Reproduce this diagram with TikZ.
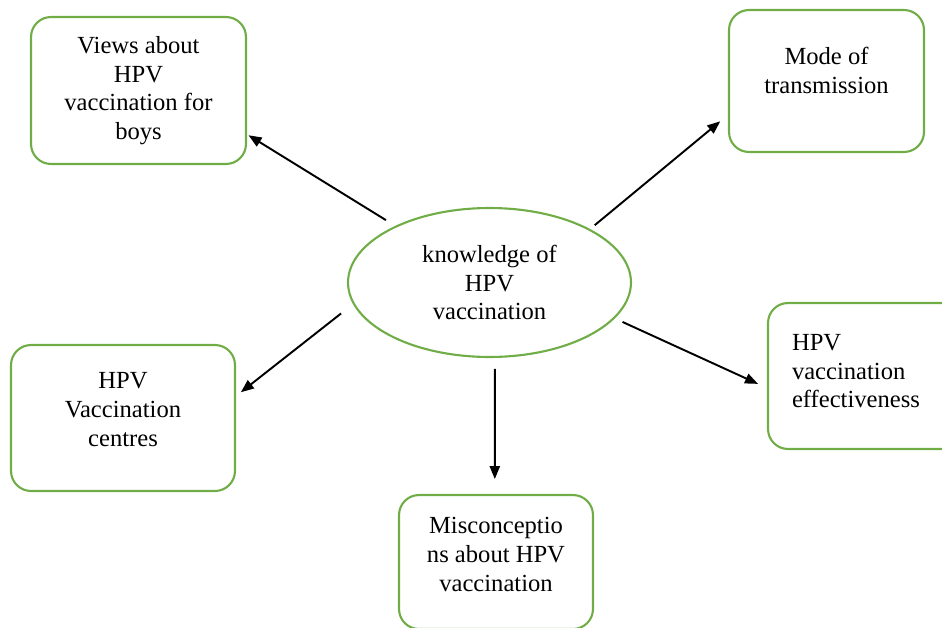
\documentclass[tikz,border=0pt]{standalone}
\usepackage{fontspec}
\setmainfont{Liberation Serif}
\usetikzlibrary{arrows.meta,shapes.geometric}
\definecolor{cgreen}{HTML}{70AD47}
\definecolor{cink}{HTML}{000000}

\begin{document}
\begin{tikzpicture}[x=0.02cm, y=-0.02cm, font=\fontsize{14}{16.3}\selectfont,
  box/.style={draw=cgreen, line width=1.2pt, rounded corners=0.4cm, align=center, inner sep=2pt},
  lift/.style={text depth=#1},
  link/.style={cink, line width=1.1pt, -{Triangle[length=7.4pt, width=5.8pt]}}]
\useasboundingbox (0,0) rectangle (942,628);
%% ------------------------------------------------------------------ centre
\node[ellipse, draw=cgreen, line width=1.2pt, minimum width=5.66cm, minimum height=2.98cm,
  align=center, inner sep=1pt] (know) at (489.5,282.5) {knowledge of\\HPV\\vaccination};
%% ------------------------------------------------------------------ themes
\node[box, minimum width=4.3cm, minimum height=2.94cm] (views) at (138.5,90.5)
  {Views about\\HPV\\vaccination for\\boys};
\node[box, lift=12pt, minimum width=3.9cm, minimum height=2.84cm] (mode) at (826.5,81)
  {Mode of\\transmission};
\node[box, lift=9.8pt, minimum width=4.48cm, minimum height=2.92cm] (centres) at (123,418)
  {HPV\\Vaccination\\centres};
\node[box, lift=8.7pt, minimum width=3.88cm, minimum height=2.68cm] (misc) at (496,562)
  {Misconceptio\\ns about HPV\\vaccination};
% text sits to the left in this one, the box runs off the page
\node[box, lift=38pt, align=left, text width=2.9cm, inner xsep=0.48cm, minimum height=2.92cm] (eff) at (864.5,376)
  {HPV\\vaccination\\effectiveness};
%% ------------------------------------------------------------------ arrows
\foreach \n/\a/\b/\s/\e in {views/149.4/338.1/6.2pt/1pt,
                            mode/28.8/199.5/3.4pt/5.7pt,
                            centres/189.9/11.3/8.6pt/3.5pt,
                            misc/274.2/91/6.2pt/8.5pt,
                            eff/344.35/187.1/4.8pt/5.6pt}
  \draw[link, shorten <=\s, shorten >=\e] (know.\a) -- (\n.\b);
\end{tikzpicture}
\end{document}
